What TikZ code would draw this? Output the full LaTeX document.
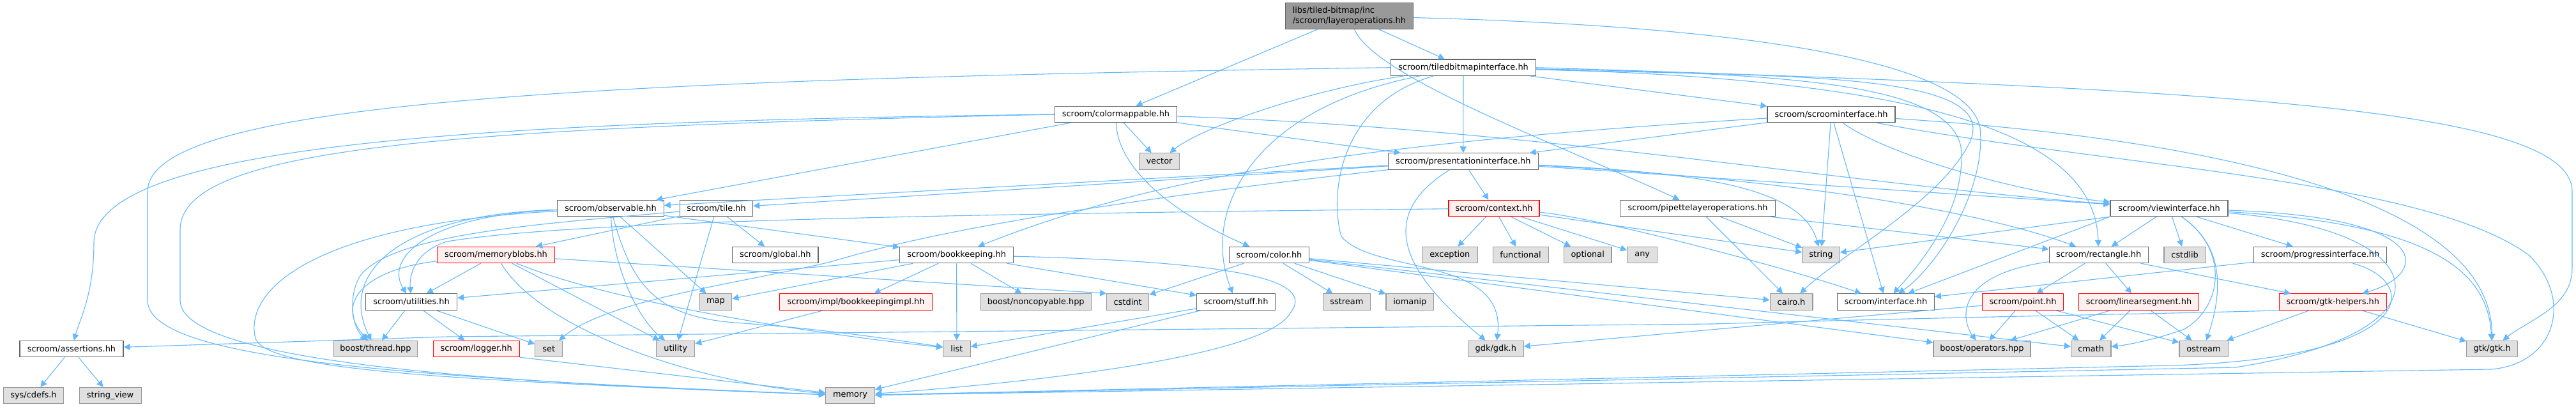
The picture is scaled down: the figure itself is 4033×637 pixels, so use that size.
\documentclass[tikz,border=0pt]{standalone}
\usepackage{fontspec}
\setmainfont{DejaVu Sans}
\usetikzlibrary{arrows.meta}
\definecolor{edgec}{HTML}{63B8FF}
\definecolor{bordc}{HTML}{666666}
\definecolor{extb}{HTML}{999999}
\definecolor{extf}{HTML}{E0E0E0}
\definecolor{redf}{HTML}{FFF0F0}
\definecolor{mainf}{HTML}{999999}
\begin{document}
\begin{tikzpicture}[x=0.5pt,y=-0.5pt,
  nb/.style={draw=bordc,fill=white,line width=0.6pt,minimum height=12.65pt,inner sep=0pt,font=\fontsize{6.46pt}{7.6pt}\selectfont},
  ng/.style={nb,draw=extb,fill=extf},
  nr/.style={nb,draw=red,fill=redf},
  e/.style={draw=edgec,line width=0.55pt,-{Triangle[length=5pt,width=5pt]}}]
\useasboundingbox (0,0) rectangle (4033,637);
% row 0
\node[nb,fill=mainf,minimum width=100pt,minimum height=20.3pt,align=left] (L) at (2112.4,25) {libs/tiled-bitmap/inc\\/scroom/layeroperations.hh};
% row 1
\node[nb,minimum width=113.5pt] (T) at (2291,105.7) {scroom/tiledbitmapinterface.hh};
% row 2
\node[nb,minimum width=95.5pt] (CM) at (1747,179) {scroom/colormappable.hh};
\node[nb,minimum width=100pt] (SI) at (2867,179) {scroom/scroominterface.hh};
% row 3
\node[ng,minimum width=31.5pt] (vec) at (1815,252.5) {vector};
\node[nb,minimum width=117.3pt] (PI) at (2290.8,252.5) {scroom/presentationinterface.hh};
% row 4
\node[nb,minimum width=83.2pt] (obs) at (956,326) {scroom/observable.hh};
\node[nb,minimum width=57pt] (tile) at (1121.6,326) {scroom/tile.hh};
\node[nr,minimum width=71pt] (ctx) at (2339,326) {scroom/context.hh};
\node[nb,minimum width=121.5pt] (P) at (2658,326) {scroom/pipettelayeroperations.hh};
\node[nb,minimum width=92pt] (view) at (3396,326) {scroom/viewinterface.hh};
% row 5
\node[nr,minimum width=92pt] (mb) at (776.5,399) {scroom/memoryblobs.hh};
\node[nb,minimum width=67.2pt] (global) at (1213.8,399) {scroom/global.hh};
\node[nb,minimum width=89pt] (bk) at (1497.6,399) {scroom/bookkeeping.hh};
\node[nb,minimum width=62.5pt] (colorh) at (1987,399) {scroom/color.hh};
\node[ng,minimum width=43.3pt] (exc) at (2269.8,399) {exception};
\node[ng,minimum width=43.5pt] (func) at (2380.6,399) {functional};
\node[ng,minimum width=37.3pt] (opt) at (2485.7,399) {optional};
\node[ng,minimum width=23.5pt] (any) at (2571.2,399) {any};
\node[ng,minimum width=29.2pt] (str) at (2851,399) {string};
\node[nb,minimum width=77.5pt] (R) at (3285.6,399) {scroom/rectangle.hh};
\node[ng,minimum width=32.6pt] (cstdlib) at (3420.6,399) {cstdlib};
\node[nb,minimum width=103.9pt] (prog) at (3632.5,399) {scroom/progressinterface.hh};
% row 6
\node[nb,minimum width=71.5pt] (util) at (644,472.5) {scroom/utilities.hh};
\node[ng,minimum width=25.3pt] (map) at (1120.4,472.5) {map};
\node[nr,minimum width=119.5pt] (impl) at (1340,472.5) {scroom/impl/bookkeepingimpl.hh};
\node[ng,minimum width=86.7pt] (nonc) at (1621.8,472.5) {boost/noncopyable.hpp};
\node[ng,minimum width=33pt] (cstdint) at (1765.7,472.5) {cstdint};
\node[nb,minimum width=61.5pt] (stuff) at (1935,472.5) {scroom/stuff.hh};
\node[ng,minimum width=37.3pt] (sstream) at (2108.4,472.5) {sstream};
\node[ng,minimum width=37.3pt] (iomanip) at (2207.3,472.5) {iomanip};
\node[ng,minimum width=33.4pt] (cairo) at (2804.5,472.5) {cairo.h};
\node[nb,minimum width=76pt] (I) at (2952.4,472.5) {scroom/interface.hh};
\node[nr,minimum width=63.3pt] (pt) at (3167,472.5) {scroom/point.hh};
\node[nr,minimum width=93.8pt] (ls) at (3348.5,472.5) {scroom/linearsegment.hh};
\node[nr,minimum width=84pt] (gh) at (3652.3,472.5) {scroom/gtk-helpers.hh};
% row 7
\node[nb,minimum width=81pt] (assert) at (112,546) {scroom/assertions.hh};
\node[ng,minimum width=65.5pt] (bt) at (588,546) {boost/thread.hpp};
\node[nr,minimum width=67.5pt] (logger) at (745.7,546) {scroom/logger.hh};
\node[ng,minimum width=21.5pt] (set) at (859.3,546) {set};
\node[ng,minimum width=30pt] (utility) at (1057.7,546) {utility};
\node[ng,minimum width=21.3pt] (list) at (1497.9,546) {list};
\node[ng,minimum width=43.3pt] (gdk) at (2341.8,546) {gdk/gdk.h};
\node[ng,minimum width=76pt] (ops) at (3103,546) {boost/operators.hpp};
\node[ng,minimum width=31.3pt] (cmath) at (3273.7,546) {cmath};
\node[ng,minimum width=38.1pt] (ost) at (3450,546) {ostream};
\node[ng,minimum width=39.9pt] (gtk) at (3901.6,546) {gtk/gtk.h};
% row 8
\node[ng,minimum width=47.3pt] (sysdefs) at (52.5,619) {sys/cdefs.h};
\node[ng,minimum width=48.5pt] (sview) at (172.6,619) {string\_view};
\node[ng,minimum width=38.5pt] (mem) at (1331,619) {memory};

% ---- edges: main
\draw[e] (L) -- (T);
\draw[e] (L) -- (CM);
\draw[e] (L) .. controls (2150,120) and (2450,230) .. (P);
\draw[e] (L) .. controls (2700,40) and (3080,90) .. (3100,200) .. controls (3110,300) and (3030,420) .. (I);
% tiledbitmapinterface
\draw[e] (T) -- (SI);
\draw[e] (T) -- (PI);
\draw[e] (T) .. controls (2050,140) and (1880,200) .. (vec);
\draw[e] (T) .. controls (1960,170) and (1880,330) .. (stuff);
\draw[e] (T) .. controls (2100,160) and (2080,300) .. (2100,370) .. controls (2150,430) and (2360,400) .. (gdk);
\draw[e] (T.west) .. controls (900,125) and (231,160) .. (231,300) -- (231,470) .. controls (231,560) and (600,590) .. (mem);
\draw[e] (T) .. controls (2800,120) and (3150,110) .. (3080,230) .. controls (3030,320) and (2880,400) .. (cairo);
\draw[e] (T) .. controls (3050,125) and (3280,220) .. (R);
\draw[e] (T) .. controls (2800,115) and (3050,130) .. (3070,230) .. controls (3080,330) and (3000,420) .. (I);
\draw[e] (T.east) .. controls (3500,140) and (4027,170) .. (4027,300) -- (4027,420) .. controls (4027,480) and (3960,500) .. (gtk);
% colormappable
\draw[e] (CM.west) .. controls (800,190) and (147,220) .. (147,380) .. controls (147,460) and (125,500) .. (assert);
\draw[e] (CM.west) .. controls (700,200) and (282,230) .. (282,360) -- (282,470) .. controls (282,570) and (800,600) .. (mem);
\draw[e] (CM) -- (PI);
\draw[e] (CM) -- (vec);
\draw[e] (CM) -- (obs);
\draw[e] (CM) .. controls (1750,270) and (1850,340) .. (colorh);
\draw[e] (CM) .. controls (2400,200) and (2900,290) .. (view);
% scroominterface
\draw[e] (SI) -- (PI);
\draw[e] (SI) -- (str);
\draw[e] (SI) -- (I);
\draw[e] (SI) .. controls (2950,240) and (3150,300) .. (view);
\draw[e] (SI) .. controls (3300,260) and (3800,280) .. (3960,400) .. controls (4030,470) and (4000,570) .. (3900,578) -- (mem);
\draw[e] (SI) .. controls (3500,220) and (3900,320) .. (gtk);
\draw[e] (SI) .. controls (2100,225) and (1800,280) .. (bk);
% presentationinterface
\draw[e] (PI) -- (obs);
\draw[e] (PI) -- (tile);
\draw[e] (PI) -- (ctx);
\draw[e] (PI) .. controls (2150,340) and (2200,430) .. (gdk);
\draw[e] (PI) .. controls (2650,270) and (2820,290) .. (str);
\draw[e] (PI) -- (view);
\draw[e] (PI) .. controls (2800,280) and (3100,330) .. (R);
\draw[e] (PI) .. controls (1600,330) and (1400,380) .. (1300,410) .. controls (1150,445) and (950,470) .. (set);
% context
\draw[e] (ctx) -- (exc);
\draw[e] (ctx) -- (func);
\draw[e] (ctx) -- (opt);
\draw[e] (ctx) -- (any);
\draw[e] (ctx) -- (str);
\draw[e] (ctx) .. controls (2500,340) and (2800,420) .. (I);
\draw[e] (ctx) .. controls (1500,335) and (900,345) .. (700,378) .. controls (660,390) and (640,420) .. (util);
% pipette
\draw[e] (P) -- (str);
\draw[e] (P) -- (R);
\draw[e] (P) -- (cairo);
% viewinterface
\draw[e] (view) -- (cstdlib);
\draw[e] (view) -- (prog);
\draw[e] (view) .. controls (3820,340) and (3800,430) .. (gh);
\draw[e] (view) .. controls (3490,390) and (3475,470) .. (ost);
\draw[e] (view.south west) -- (str);
\draw[e] (view.south west) -- (I);
\draw[e] (view) -- (R);
\draw[e] (view) .. controls (3800,350) and (3895,420) .. (gtk);
\draw[e] (view) .. controls (3820,360) and (3850,520) .. (3500,575) -- (mem);
\draw[e] (view) .. controls (3490,390) and (3480,480) .. (3420,515) .. controls (3380,530) and (3330,540) .. (cmath);
% progressinterface
\draw[e] (prog) -- (I);
\draw[e] (prog) .. controls (3790,440) and (3790,560) .. (3400,572) -- (mem);
% rectangle
\draw[e] (R) -- (pt);
\draw[e] (R) -- (ls);
\draw[e] (R) .. controls (3060,430) and (3070,500) .. (ops);
\draw[e] (R) -- (gh);
% gtk-helpers
\draw[e] (gh) -- (ost);
\draw[e] (gh) -- (gtk);
\draw[e] (gh.south west) .. controls (3450,490) and (3100,495) .. (2680,507) -- (700,527) -- (assert);
% point
\draw[e] (pt) -- (ops);
\draw[e] (pt) -- (cmath);
\draw[e] (pt) -- (ost);
\draw[e] (pt) -- (gdk);
% linearsegment
\draw[e] (ls) -- (ops);
\draw[e] (ls) -- (cmath);
\draw[e] (ls) -- (ost);
% color
\draw[e] (colorh) -- (sstream);
\draw[e] (colorh) -- (iomanip);
\draw[e] (colorh) -- (cstdint);
\draw[e] (colorh) -- (cairo);
\draw[e] (colorh) -- (ops);
\draw[e] (colorh) -- (cmath);
% stuff
\draw[e] (stuff) -- (list);
\draw[e] (stuff) -- (mem);
% bookkeeping
\draw[e] (bk) -- (impl);
\draw[e] (bk) -- (list);
\draw[e] (bk) -- (nonc);
\draw[e] (bk) -- (stuff);
\draw[e] (bk) .. controls (1950,410) and (2060,440) .. (2020,490) .. controls (1980,560) and (1600,600) .. (mem);
\draw[e] (bk) -- (map);
\draw[e] (bk) -- (util);
\draw[e] (impl) -- (utility);
% observable
\draw[e] (obs) -- (map);
\draw[e] (obs) .. controls (960,420) and (1000,500) .. (utility);
\draw[e] (obs) .. controls (990,450) and (1030,495) .. (1150,505) .. controls (1300,515) and (1420,535) .. (list);
\draw[e] (obs) -- (bk);
\draw[e] (obs) .. controls (680,335) and (600,400) .. (util);
\draw[e] (obs) .. controls (620,335) and (530,430) .. (bt);
\draw[e] (obs) .. controls (500,350) and (380,450) .. (400,530) .. controls (420,580) and (700,595) .. (mem);
% tile
\draw[e] (tile) -- (mb);
\draw[e] (tile) -- (global);
\draw[e] (tile) -- (utility);
\draw[e] (tile) .. controls (850,350) and (620,365) .. (565,430) .. controls (545,460) and (550,510) .. (bt);
% memoryblobs
\draw[e] (mb) -- (util);
\draw[e] (mb) -- (utility);
\draw[e] (mb) .. controls (950,470) and (1250,520) .. (list);
\draw[e] (mb) .. controls (850,520) and (1100,600) .. (mem);
\draw[e] (mb) -- (cstdint.north west);
\draw[e] (mb) .. controls (580,420) and (520,470) .. (bt);
% utilities
\draw[e] (util) -- (bt);
\draw[e] (util) -- (logger);
\draw[e] (util) -- (set);
\draw[e] (logger.south east) -- (mem);
% assertions
\draw[e] (assert) -- (sysdefs);
\draw[e] (assert) -- (sview);
\end{tikzpicture}
\end{document}
